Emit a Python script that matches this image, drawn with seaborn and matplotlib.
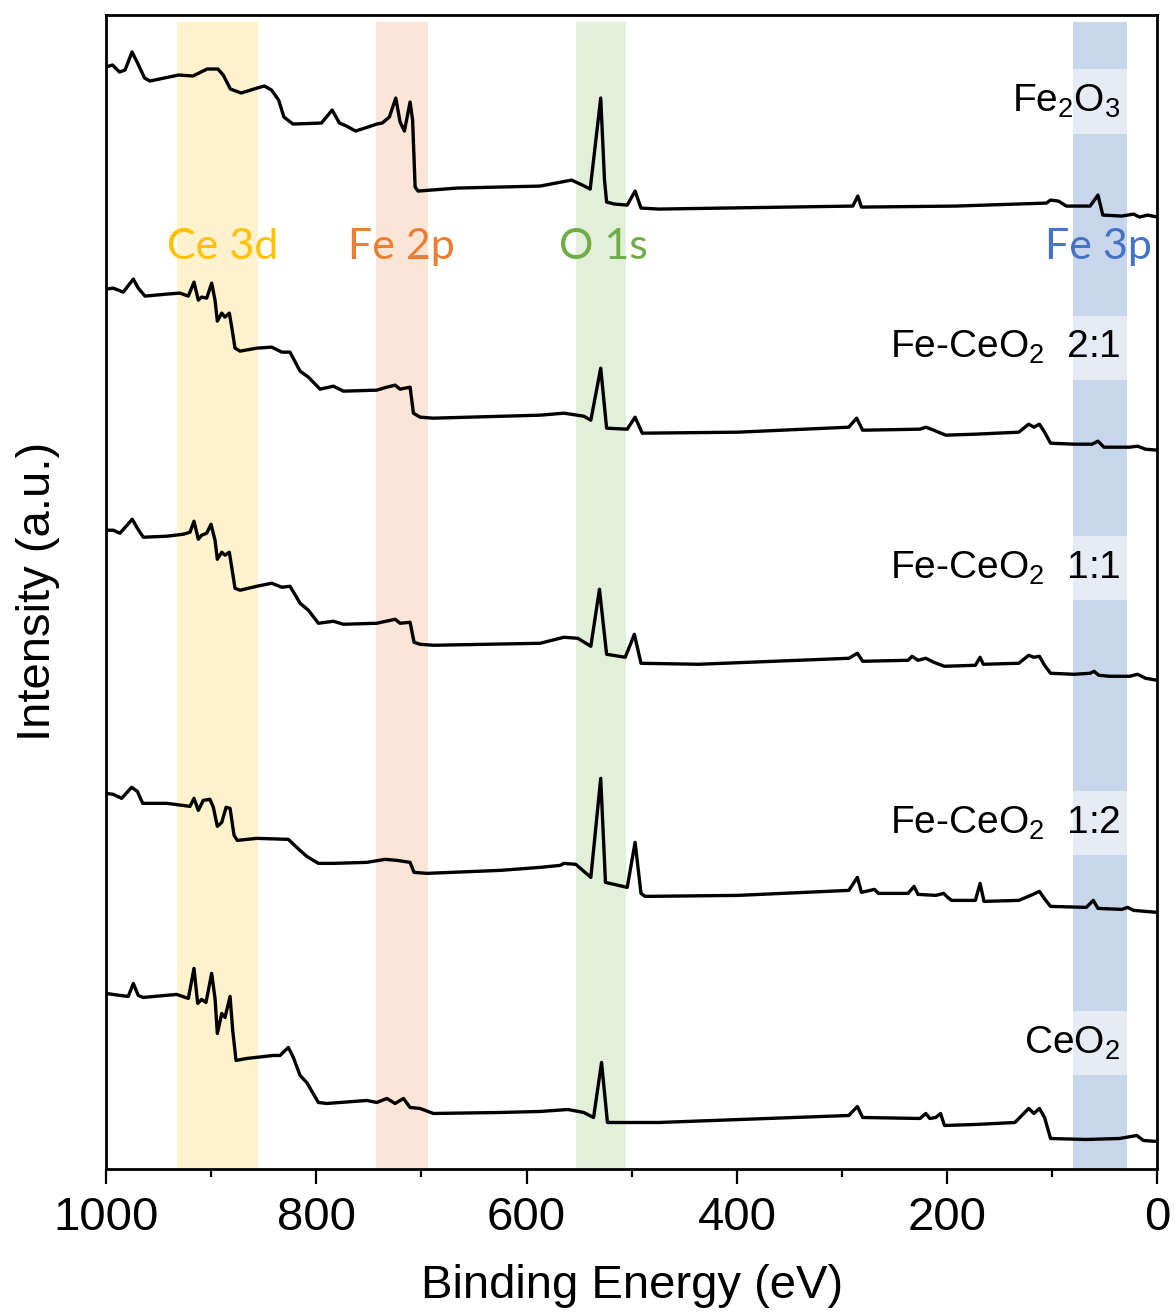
import matplotlib
matplotlib.use("Agg")
import matplotlib.pyplot as plt
import seaborn as sns
from matplotlib.ticker import MultipleLocator

sns.set_style("ticks")
plt.rcParams["font.family"] = ["Liberation Sans", "DejaVu Sans"]
plt.rcParams["mathtext.fontset"] = "custom"
plt.rcParams["mathtext.rm"] = "Liberation Sans"
plt.rcParams["mathtext.it"] = "Liberation Sans:italic"
plt.rcParams["mathtext.bf"] = "Liberation Sans:bold"
plt.rcParams["text.color"] = "black"
plt.rcParams["axes.labelcolor"] = "black"
plt.rcParams["xtick.color"] = "black"
plt.rcParams["xtick.labelcolor"] = "black"

# ---- XPS survey spectra (binding energy in eV, stacked intensity in a.u.) ----
fe2o3_be = [1000, 993.8, 987.1, 981.9, 975.2, 970.0, 963.3, 958.2, 930.9, 917.3,
            903.8, 893.6, 888.5, 881.7, 871.5, 856.2, 849.4, 842.6, 835.8, 830.8,
            822.2, 795.1, 784.9, 778.0, 771.3, 762.7, 750.8, 742.4, 737.3, 730.5,
            724.4, 720.3, 716.2, 710.8, 708.4, 706.0, 703.2, 666.0, 587.1, 557.2,
            547.0, 539.5, 529.5, 525.9, 523.9, 516.4, 504.3, 496.8, 491.2, 474.2,
            289.8, 285.0, 281.5, 192.0, 105.5, 101.8, 94.2, 86.7, 64.1, 56.6,
            52.0, 34.0, 22.7, 17.1, 9.5, 0]
fe2o3_int = [1101, 1103, 1096, 1098, 1116, 1105, 1090, 1087, 1093, 1092,
             1099, 1099, 1093, 1079, 1075, 1080, 1082, 1078, 1068, 1051,
             1044, 1045, 1058, 1045, 1042, 1037, 1041, 1044, 1045, 1051,
             1070, 1046, 1037, 1066, 1048, 981, 977, 980, 982, 988,
             983, 979, 1070, 988, 966, 964, 963, 977, 960, 959,
             962, 972, 961, 962, 965, 968, 967, 962, 962, 973,
             953, 952, 954, 951, 953, 951]

fe21_be = [1000, 993.1, 983.6, 974.0, 969.3, 962.9, 942.3, 929.6, 921.7, 916.3,
           912.2, 909.0, 904.2, 899.5, 896.3, 894.1, 889.9, 886.8, 882.7, 880.4,
           877.3, 872.5, 856.6, 842.4, 832.8, 825.0, 815.4, 807.5, 796.4, 783.7,
           774.2, 742.5, 732.9, 725.0, 720.3, 710.8, 707.6, 701.3, 688.6, 587.1,
           564.5, 545.7, 538.9, 529.5, 523.9, 504.3, 496.8, 490.0, 399.0, 293.6,
           286.1, 280.4, 225.9, 220.3, 212.8, 201.4, 173.2, 131.9, 122.5, 117.5,
           112.3, 107.4, 101.7, 79.2, 62.2, 56.6, 50.9, 26.5, 18.9, 11.4, 0]
fe21_int = [879, 880, 876, 889, 880, 872, 874, 875, 872, 886,
            868, 871, 870, 885, 868, 847, 855, 851, 855, 841,
            820, 817, 820, 821, 816, 816, 797, 791, 779, 782,
            777, 778, 781, 783, 779, 781, 755, 751, 750, 753,
            755, 752, 748, 800, 740, 739, 751, 735, 736, 741,
            750, 738, 739, 741, 738, 733, 734, 736, 744, 741,
            744, 736, 725, 724, 724, 727, 721, 721, 722, 719, 718]

fe11_be = [1000, 993.1, 986.7, 975.0, 970.2, 964.5, 942.3, 926.5, 920.1, 916.3,
           912.2, 909.0, 904.2, 900.1, 896.3, 894.1, 889.9, 886.8, 882.7, 880.4,
           877.3, 872.5, 856.6, 842.4, 832.8, 825.0, 815.4, 807.5, 798.0, 783.7,
           774.2, 742.5, 725.0, 720.3, 710.8, 707.0, 701.3, 688.6, 587.1, 564.5,
           551.3, 538.9, 530.7, 523.9, 506.2, 497.5, 491.2, 436.5, 293.6, 285.4,
           280.4, 237.2, 233.4, 227.8, 220.3, 212.8, 202.6, 173.2, 168.7, 165.7,
           131.9, 122.5, 117.5, 112.3, 107.4, 101.7, 79.2, 64.1, 60.3, 55.9,
           45.3, 26.5, 18.9, 11.4, 0]
fe11_int = [638, 638, 635, 649, 640, 631, 632, 634, 636, 647,
            629, 633, 635, 644, 628, 609, 616, 613, 616, 601,
            580, 578, 582, 585, 581, 582, 565, 558, 545, 547,
            544, 545, 549, 545, 546, 526, 524, 523, 525, 531,
            530, 522, 579, 514, 511, 534, 505, 504, 510, 515,
            507, 508, 512, 508, 510, 506, 502, 503, 511, 504,
            505, 513, 511, 512, 503, 495, 494, 495, 497, 493,
            492, 492, 494, 490, 488]

fe12_be = [1000, 993.1, 985.1, 975.6, 970.2, 965.1, 942.3, 920.1, 916.3, 912.2,
           907.4, 901.1, 897.9, 894.1, 889.9, 885.8, 882.0, 878.2, 875.1, 856.6,
           826.6, 818.6, 809.1, 798.0, 783.7, 752.0, 734.6, 723.4, 710.8, 707.0,
           694.9, 625.1, 587.1, 568.0, 564.5, 553.2, 538.9, 529.5, 525.0, 504.3,
           496.8, 491.2, 487.4, 399.0, 293.6, 285.4, 281.5, 269.2, 265.4, 237.2,
           231.5, 227.8, 210.9, 203.3, 199.5, 195.8, 173.2, 168.7, 165.0, 131.9,
           120.6, 112.3, 106.3, 101.7, 67.8, 61.1, 56.6, 34.0, 28.4, 22.7, 0]
fe12_int = [375, 374, 370, 381, 377, 365, 365, 362, 370, 358,
            368, 369, 361, 342, 346, 361, 360, 333, 328, 330,
            329, 321, 312, 305, 305, 306, 309, 308, 306, 296,
            295, 298, 301, 303, 305, 304, 291, 390, 286, 281,
            326, 275, 272, 273, 278, 291, 276, 279, 275, 275,
            282, 274, 273, 275, 271, 268, 268, 285, 267, 268,
            273, 277, 268, 262, 261, 268, 260, 259, 261, 258, 256]

ceo2_be = [1000, 986.7, 978.8, 974.0, 969.3, 964.5, 932.8, 921.7, 916.3, 912.8,
           909.0, 904.9, 899.5, 896.3, 894.1, 889.9, 886.8, 882.0, 879.5, 876.3,
           866.1, 840.8, 834.5, 826.6, 821.8, 815.4, 809.1, 798.0, 790.0, 752.0,
           742.5, 732.9, 725.0, 717.1, 710.8, 701.3, 688.6, 625.1, 587.1, 560.7,
           545.7, 536.3, 528.7, 523.1, 474.2, 293.6, 285.4, 280.4, 225.9, 220.3,
           216.5, 210.9, 206.3, 202.6, 173.2, 135.6, 122.5, 117.5, 112.3, 107.4,
           101.7, 67.8, 36.1, 19.7, 13.3, 0]
ceo2_int = [175, 173, 172, 185, 173, 171, 174, 170, 200, 165,
            169, 166, 195, 170, 135, 155, 151, 172, 138, 108,
            110, 113, 113, 121, 111, 93, 86, 66, 65, 68,
            66, 70, 65, 70, 61, 60, 55, 56, 57, 59,
            56, 51, 106, 46, 46, 53, 62, 51, 50, 55,
            50, 51, 55, 43, 44, 46, 60, 55, 60, 51,
            30, 29, 30, 33, 28, 27]

sample_names = ["Fe$_2$O$_3$", "Fe-CeO$_2$  2:1", "Fe-CeO$_2$  1:1",
                "Fe-CeO$_2$  1:2", "CeO$_2$"]
sample_label_y = [1056, 810, 590, 335, 115]

# ---- core-level regions ----
region_names = ["Ce 3d", "Fe 2p", "O 1s", "Fe 3p"]
region_lo = [855, 694, 505, 29]
region_hi = [932, 743, 553, 80]
region_fill = ["#FFF2CC", "#FBE5D6", "#E2F0D9", "#C8D6EC"]
region_text = ["#FFC000", "#ED7D31", "#70AD47", "#4472C4"]
region_label_x = [888.7, 719.3, 527.1, 56.1]
region_label_y = 921

fig = plt.figure(figsize=(11.75, 13.15), dpi=100)
ax = fig.add_axes([0.0902, 0.1114, 0.8949, 0.8772])

for lo, hi, fc in zip(region_lo, region_hi, region_fill):
    ax.axvspan(lo, hi, ymin=0, ymax=0.994, color=fc, lw=0, zorder=0)

for be, inten in [(fe2o3_be, fe2o3_int), (fe21_be, fe21_int), (fe11_be, fe11_int),
                  (fe12_be, fe12_int), (ceo2_be, ceo2_int)]:
    sns.lineplot(x=be, y=inten, ax=ax, color="black", linewidth=2.4,
                 estimator=None, sort=True, zorder=3)

for name, xl, col in zip(region_names, region_label_x, region_text):
    ax.text(xl, region_label_y, name, color=col, fontsize=31, ha="center",
            va="center", family=["Lato", "DejaVu Sans"], zorder=4)

for name, yl in zip(sample_names, sample_label_y):
    ax.text(35.2, yl, name, fontsize=28, ha="right", va="baseline", zorder=2,
            color="black",
            bbox=dict(boxstyle="square,pad=0.35", facecolor="white",
                      edgecolor="none", alpha=0.55))

ax.set_xlim(1000, 0)
ax.set_ylim(0, 1153)
ax.set_yticks([])
ax.xaxis.set_major_locator(MultipleLocator(200))
ax.xaxis.set_minor_locator(MultipleLocator(100))
ax.tick_params(axis="x", which="major", length=11, width=1.6, labelsize=34,
               pad=9, direction="out", color="black", labelcolor="black")
ax.tick_params(axis="x", which="minor", length=6, width=1.6, direction="out",
               color="black")
for sp in ax.spines.values():
    sp.set_linewidth(2.0)
    sp.set_color("black")

ax.set_xlabel("Binding Energy (eV)", fontsize=34, labelpad=17, color="black")
ax.set_ylabel("Intensity (a.u.)", fontsize=34, labelpad=33, color="black")

fig.savefig("out.png", dpi=100)
